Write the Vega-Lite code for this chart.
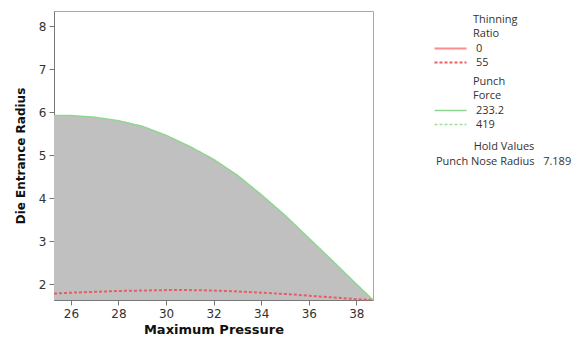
{
  "$schema": "https://vega.github.io/schema/vega-lite/v6.json",
  "width": 319,
  "height": 289,
  "autosize": {"type": "none"},
  "padding": {"left": 54, "top": 11, "right": 209, "bottom": 38},
  "background": "white",
  "config": {
    "view": {"stroke": "#a8a8a8", "strokeWidth": 1},
    "axis": {
      "grid": false,
      "labelFont": "DejaVu Sans",
      "labelFontSize": 12,
      "labelColor": "#333333",
      "tickColor": "#777777",
      "tickSize": 5,
      "domainColor": "#777777",
      "titleFont": "DejaVu Sans",
      "titleFontWeight": "bold",
      "titleColor": "#111111"
    },
    "legend": {
      "padding": 0,
      "titleFont": "Open Sans",
      "titleFontSize": 11,
      "titleFontWeight": "normal",
      "titleColor": "#333333",
      "titleLineHeight": 14,
      "titlePadding": 4,
      "labelFont": "Open Sans",
      "labelFontSize": 11,
      "labelColor": "#333333",
      "symbolType": "M-4,0H4",
      "symbolSize": 64,
      "rowPadding": 2
    }
  },
  "datasets": {
    "thinning": [
      {"x": 25.29, "y": 1.78, "tr": "55"},
      {"x": 26, "y": 1.8, "tr": "55"},
      {"x": 27, "y": 1.82, "tr": "55"},
      {"x": 28, "y": 1.84, "tr": "55"},
      {"x": 29, "y": 1.85, "tr": "55"},
      {"x": 30, "y": 1.86, "tr": "55"},
      {"x": 31, "y": 1.86, "tr": "55"},
      {"x": 32, "y": 1.85, "tr": "55"},
      {"x": 33, "y": 1.83, "tr": "55"},
      {"x": 34, "y": 1.8, "tr": "55"},
      {"x": 35, "y": 1.77, "tr": "55"},
      {"x": 36, "y": 1.73, "tr": "55"},
      {"x": 37, "y": 1.69, "tr": "55"},
      {"x": 38, "y": 1.65, "tr": "55"},
      {"x": 38.7, "y": 1.63, "tr": "55"}
    ],
    "force": [
      {"x": 25.29, "y": 5.92, "pf": "233.2"},
      {"x": 26, "y": 5.92, "pf": "233.2"},
      {"x": 27, "y": 5.88, "pf": "233.2"},
      {"x": 28, "y": 5.8, "pf": "233.2"},
      {"x": 29, "y": 5.67, "pf": "233.2"},
      {"x": 30, "y": 5.46, "pf": "233.2"},
      {"x": 31, "y": 5.2, "pf": "233.2"},
      {"x": 32, "y": 4.9, "pf": "233.2"},
      {"x": 33, "y": 4.53, "pf": "233.2"},
      {"x": 34, "y": 4.08, "pf": "233.2"},
      {"x": 35, "y": 3.6, "pf": "233.2"},
      {"x": 36, "y": 3.07, "pf": "233.2"},
      {"x": 37, "y": 2.54, "pf": "233.2"},
      {"x": 38, "y": 2.0, "pf": "233.2"},
      {"x": 38.7, "y": 1.63, "pf": "233.2"}
    ],
    "hold": [
      {"x": 30, "y": 5, "hold": "Punch Nose Radius\u00a0\u00a0\u00a07.189"}
    ]
  },
  "encoding": {
    "x": {
      "field": "x",
      "type": "quantitative",
      "title": "Maximum Pressure",
      "scale": {"domain": [25.29, 38.7], "nice": false, "zero": false},
      "axis": {"values": [26, 28, 30, 32, 34, 36, 38], "titleFontSize": 13, "titlePadding": 4, "labelPadding": 3}
    },
    "y": {
      "field": "y",
      "type": "quantitative",
      "title": "Die Entrance Radius",
      "scale": {"domain": [1.63, 8.35], "nice": false, "zero": false},
      "axis": {"values": [2, 3, 4, 5, 6, 7, 8], "titleFontSize": 12, "titlePadding": 11, "labelPadding": 3}
    }
  },
  "layer": [
    {
      "data": {"name": "force"},
      "mark": {"type": "area", "color": "#c0c0c0", "opacity": 1},
      "encoding": {"y2": {"datum": 1.63}}
    },
    {
      "data": {"name": "thinning"},
      "mark": {"type": "line", "strokeWidth": 2},
      "encoding": {
        "color": {
          "field": "tr",
          "type": "nominal",
          "scale": {"domain": ["0", "55"], "range": ["#ff8c8c", "#e95c64"]},
          "legend": {"title": ["Thinning", "Ratio"], "orient": "none", "legendX": 419, "legendY": 3, "symbolOffset": -28, "labelOffset": 20, "symbolStrokeWidth": 2}
        },
        "strokeDash": {
          "field": "tr",
          "type": "nominal",
          "scale": {"domain": ["0", "55"], "range": [[1, 0], [3, 2]]},
          "legend": {"title": ["Thinning", "Ratio"], "orient": "none", "legendX": 419, "legendY": 3, "symbolOffset": -28, "labelOffset": 20, "symbolStrokeWidth": 2}
        }
      }
    },
    {
      "data": {"name": "force"},
      "mark": {"type": "line", "strokeWidth": 1.5},
      "encoding": {
        "color": {
          "field": "pf",
          "type": "nominal",
          "scale": {"domain": ["233.2", "419"], "range": ["#8fd68f", "#9ee09e"]},
          "legend": {"title": ["Punch", "Force"], "orient": "none", "legendX": 419, "legendY": 65, "symbolOffset": -28, "labelOffset": 20, "symbolStrokeWidth": 1.5}
        },
        "strokeDash": {
          "field": "pf",
          "type": "nominal",
          "scale": {"domain": ["233.2", "419"], "range": [[1, 0], [3, 2]]},
          "legend": {"title": ["Punch", "Force"], "orient": "none", "legendX": 419, "legendY": 65, "symbolOffset": -28, "labelOffset": 20, "symbolStrokeWidth": 1.5}
        }
      }
    },
    {
      "data": {"name": "hold"},
      "mark": {"type": "point", "opacity": 0},
      "encoding": {
        "shape": {
          "field": "hold",
          "type": "nominal",
          "legend": {"title": "Hold Values", "orient": "none", "legendX": 383, "legendY": 130, "symbolType": "circle", "symbolSize": 0, "symbolOpacity": 0, "labelOffset": -12, "titleAnchor": "middle", "titlePadding": 4}
        }
      }
    }
  ],
  "resolve": {"scale": {"color": "independent", "strokeDash": "independent"}}
}
